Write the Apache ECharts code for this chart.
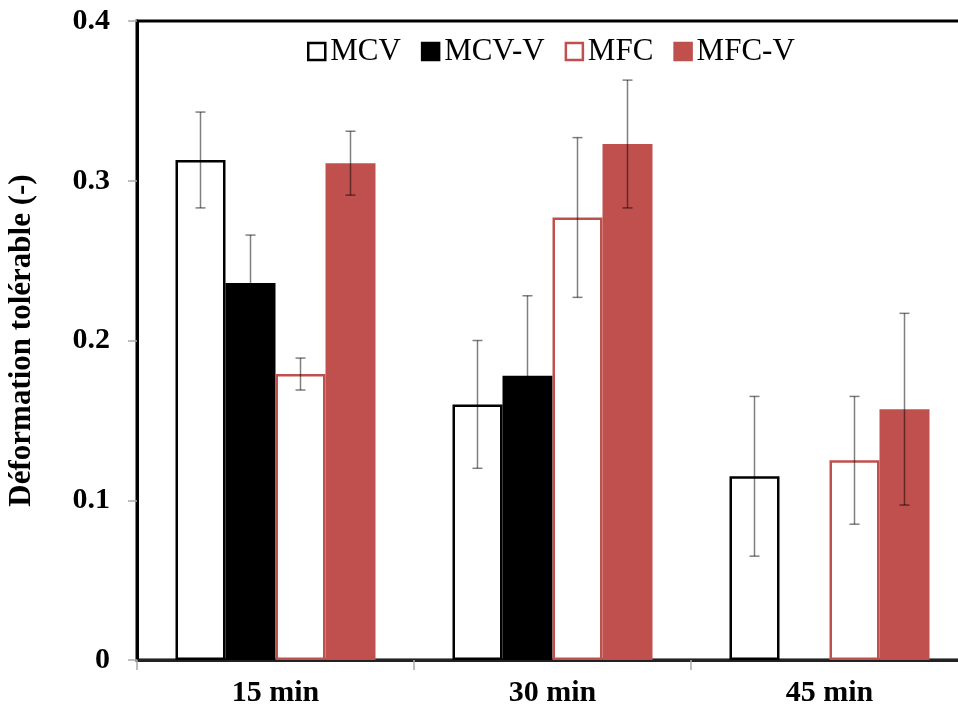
<!DOCTYPE html>
<html>
<head>
<meta charset="utf-8">
<script src="https://cdn.jsdelivr.net/npm/echarts@6/dist/echarts.min.js"></script>
<style>html,body{margin:0;padding:0;background:#fff;}#c{width:958px;height:711px;}</style>
</head>
<body>
<div id="c"></div>
<script>
var categories = ['15 min', '30 min', '45 min'];
var seriesNames = ['MCV', 'MCV-V', 'MFC', 'MFC-V'];
var mcv = [0.313, 0.160, 0.115];
var mcvErr = [0.030, 0.040, 0.050];
var mcvV = [0.236, 0.178, null];
var mcvVErr = [0.030, 0.050, null];
var mfc = [0.179, 0.277, 0.125];
var mfcErr = [0.010, 0.050, 0.040];
var mfcV = [0.311, 0.323, 0.157];
var mfcVErr = [0.020, 0.040, 0.060];
var yTicks = [0, 0.1, 0.2, 0.3, 0.4];

var FONT = "'Liberation Serif', 'Times New Roman', serif";
var RED = '#c0504d';
var BAR_W = 50;
var values = [mcv, mcvV, mfc, mfcV];
var errors = [mcvErr, mcvVErr, mfcErr, mfcVErr];
var styles = [
  {color: '#ffffff', borderColor: '#000000', borderWidth: 2.5},
  {color: '#000000', borderColor: '#000000', borderWidth: 0},
  {color: '#ffffff', borderColor: RED, borderWidth: 2.5},
  {color: RED, borderColor: RED, borderWidth: 0}
];

var series = [];
seriesNames.forEach(function (name, i) {
  series.push({
    name: name,
    type: 'bar',
    barWidth: BAR_W,
    barGap: '0%',
    data: values[i],
    itemStyle: styles[i],
    z: 2
  });
});
seriesNames.forEach(function (name, i) {
  var data = [];
  categories.forEach(function (c, k) {
    if (values[i][k] != null && errors[i][k] != null) {
      data.push([k, values[i][k] - errors[i][k], values[i][k] + errors[i][k]]);
    }
  });
  series.push({
    type: 'custom',
    name: name + '_err',
    z: 5,
    silent: true,
    data: data,
    renderItem: function (params, api) {
      var k = api.value(0);
      var lo = api.coord([k, api.value(1)]);
      var hi = api.coord([k, api.value(2)]);
      var x = lo[0] + (i - 1.5) * BAR_W;
      var cap = 5;
      var st = {stroke: 'rgba(0,0,0,0.5)', lineWidth: 1.5};
      return {
        type: 'group',
        children: [
          {type: 'line', shape: {x1: x, y1: lo[1], x2: x, y2: hi[1]}, style: st},
          {type: 'line', shape: {x1: x - cap, y1: lo[1], x2: x + cap, y2: lo[1]}, style: st},
          {type: 'line', shape: {x1: x - cap, y1: hi[1], x2: x + cap, y2: hi[1]}, style: st}
        ]
      };
    }
  });
});

var chart = echarts.init(document.getElementById('c'), null, {renderer: 'canvas'});
chart.setOption({
  animation: false,
  backgroundColor: '#ffffff',
  grid: {left: 137, top: 21, width: 831, bottom: 51, containLabel: false, outerBoundsMode: 'none', show: true, borderColor: '#000', borderWidth: 3, backgroundColor: 'transparent'},
  legend: {
    data: seriesNames.map(function (n, i) {
      return {name: n, icon: 'rect', itemStyle: {color: styles[i].color, borderColor: styles[i].borderColor, borderWidth: 2.5}};
    }),
    left: 302,
    top: 31,
    itemWidth: 17,
    itemHeight: 17,
    itemGap: 20,
    textStyle: {fontFamily: FONT, fontSize: 31, color: '#000'}
  },
  xAxis: {
    type: 'category',
    data: categories,
    axisLine: {lineStyle: {color: '#222', width: 3}},
    axisTick: {show: true, length: 10, lineStyle: {color: '#aaa', width: 1.5}},
    axisLabel: {fontFamily: FONT, fontSize: 30, fontWeight: 'bold', color: '#000', margin: 18},
    splitLine: {show: false}
  },
  yAxis: {
    type: 'value',
    min: yTicks[0],
    max: yTicks[yTicks.length - 1],
    interval: 0.1,
    name: 'Déformation tolérable (-)',
    nameLocation: 'middle',
    nameGap: 100,
    nameRotate: 90,
    nameTextStyle: {fontFamily: FONT, fontSize: 31, fontWeight: 'bold', color: '#000'},
    axisLine: {show: true, lineStyle: {color: '#000', width: 3}},
    axisTick: {show: true, length: 9, lineStyle: {color: '#aaa', width: 1.5}},
    axisLabel: {fontFamily: FONT, fontSize: 30, fontWeight: 'bold', color: '#000', margin: 27},
    splitLine: {show: false}
  },
  series: series
});
</script>
</body>
</html>
